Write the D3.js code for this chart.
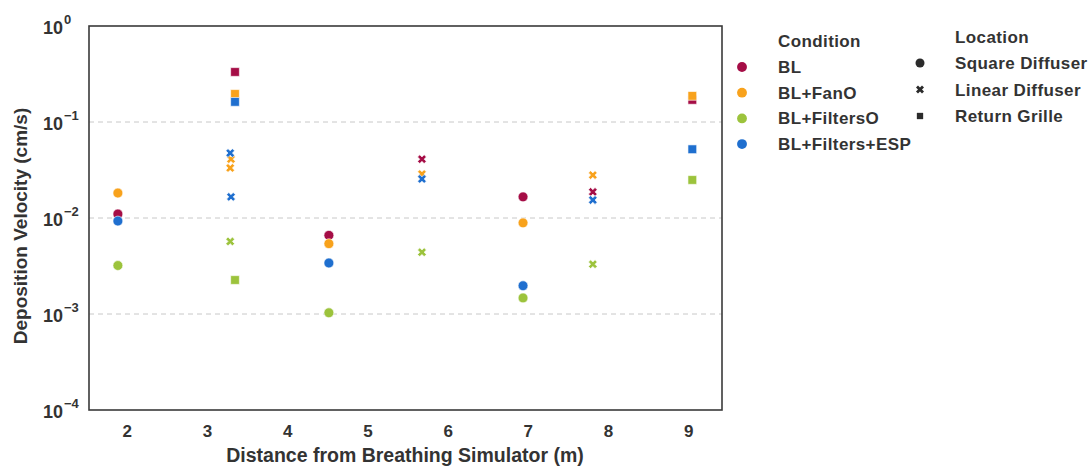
<!DOCTYPE html>
<html>
<head>
<meta charset="utf-8">
<script src="https://cdn.jsdelivr.net/npm/d3@7/dist/d3.min.js"></script>
<style>
  html, body { margin: 0; padding: 0; background: #fff; }
  svg { display: block; }
  text { font-family: "Liberation Sans", Arial, sans-serif; font-weight: bold; fill: #333; }
</style>
</head>
<body>
<svg id="chart" width="1092" height="466"></svg>
<script>
// ---------- data ----------
const conditions = ["BL", "BL+FanO", "BL+FiltersO", "BL+Filters+ESP"];
const locations = ["Square Diffuser", "Linear Diffuser", "Return Grille"];
const conditionColors = ["#a50d46", "#f8a21c", "#9cc33c", "#1f6fcf"];
const xTicks = [2, 3, 4, 5, 6, 7, 8, 9];
const yTickExponents = [0, -1, -2, -3, -4];

// one entry per point: distance (m), deposition velocity (cm/s), condition index, location index
const distance = [
  1.89, 4.52, 6.94,   1.89, 4.52, 6.94,   1.89, 4.52, 6.94,   1.89, 4.52, 6.94,
  5.68, 7.81,         3.30, 3.29, 5.68, 7.81,   3.29, 5.68, 7.81,   3.29, 3.30, 5.68, 7.81,
  3.35, 9.05,         3.35, 9.05,         3.35, 9.05,         3.35, 9.05
];
const velocity = [
  0.0110, 0.0066, 0.0166,   0.0182, 0.0054, 0.0089,   0.0032, 0.00103, 0.00147,   0.0093, 0.0034, 0.00197,
  0.041, 0.0187,            0.041, 0.0332, 0.0287, 0.028,   0.0057, 0.0044, 0.0033,   0.0475, 0.0166, 0.0255, 0.0154,
  0.332, 0.170,             0.196, 0.187,             0.00226, 0.0249,          0.162, 0.052
];
const conditionIndex = [
  0, 0, 0,  1, 1, 1,  2, 2, 2,  3, 3, 3,
  0, 0,     1, 1, 1, 1,  2, 2, 2,  3, 3, 3, 3,
  0, 0,     1, 1,     2, 2,     3, 3
];
const locationIndex = [
  0, 0, 0,  0, 0, 0,  0, 0, 0,  0, 0, 0,
  1, 1,     1, 1, 1, 1,  1, 1, 1,  1, 1, 1, 1,
  2, 2,     2, 2,     2, 2,     2, 2
];

// ---------- layout ----------
const svg = d3.select("#chart");
const plot = { left: 89, right: 722, top: 26, bottom: 410 };

const x = d3.scaleLinear().domain([1.53, 9.42]).range([plot.left, plot.right]);
const y = d3.scaleLog().domain([1e-4, 1]).range([plot.bottom, plot.top]);

// grid lines
svg.append("g").selectAll("line")
  .data(yTickExponents.filter(e => e < 0 && e > -4))
  .join("line")
  .attr("x1", plot.left).attr("x2", plot.right)
  .attr("y1", d => y(Math.pow(10, d))).attr("y2", d => y(Math.pow(10, d)))
  .attr("stroke", "#c8c8c8").attr("stroke-width", 1)
  .attr("stroke-dasharray", "5,4");

// x axis (labels only)
const xAxis = d3.axisBottom(x).tickValues(xTicks).tickSize(0).tickPadding(15).tickFormat(d3.format("d"));
const gx = svg.append("g").attr("transform", `translate(0,${plot.bottom})`).call(xAxis);
gx.select(".domain").remove();
gx.selectAll("text").attr("font-size", 17).attr("fill", "#333")
  .style("font-family", "Liberation Sans, Arial, sans-serif").style("font-weight", "bold");

// y axis labels: 10^e
const gy = svg.append("g");
yTickExponents.forEach(e => {
  const t = gy.append("text")
    .attr("x", 43)
    .attr("y", y(Math.pow(10, e)) + 8)
    .attr("font-size", 18);
  t.append("tspan").text("10");
  t.append("tspan").attr("dx", 1).attr("dy", -10).attr("font-size", 13)
    .text(e === 0 ? "0" : "\u2212" + Math.abs(e));
});

// frame
svg.append("rect")
  .attr("x", plot.left).attr("y", plot.top)
  .attr("width", plot.right - plot.left).attr("height", plot.bottom - plot.top)
  .attr("fill", "none").attr("stroke", "#3a3a3a").attr("stroke-width", 1.6);

// markers
const symbolTypes = [d3.symbolCircle, d3.symbolCross, d3.symbolSquare];
const symbolSizes = [76, 48, 76];
const symbolRot = [0, 45, 0];

const points = distance.map((d, i) => ({
  x: d, v: velocity[i], c: conditionIndex[i], l: locationIndex[i]
}));
// draw in condition order (later conditions on top)
const ordered = points.slice().sort((a, b) => a.c - b.c);

svg.append("g").selectAll("path")
  .data(ordered)
  .join("path")
  .attr("d", d => d3.symbol().type(symbolTypes[d.l]).size(symbolSizes[d.l])())
  .attr("transform", d => `translate(${x(d.x)},${y(d.v)}) rotate(${symbolRot[d.l]})`)
  .attr("fill", d => conditionColors[d.c])
  .attr("stroke", "#fff").attr("stroke-width", 0.6);

// axis titles
svg.append("text")
  .attr("x", 405)
  .attr("y", 462)
  .attr("text-anchor", "middle")
  .attr("font-size", 19.5)
  .text("Distance from Breathing Simulator (m)");

svg.append("text")
  .attr("transform", `translate(27,226) rotate(-90)`)
  .attr("text-anchor", "middle")
  .attr("font-size", 19)
  .text("Deposition Velocity (cm/s)");

// legend
const leg = svg.append("g").attr("font-size", 17).attr("letter-spacing", 0.4);
leg.append("text").attr("x", 778).attr("y", 47).text("Condition");
conditions.forEach((c, i) => {
  const yy = 67 + i * 25.7;
  leg.append("path")
    .attr("d", d3.symbol().type(d3.symbolCircle).size(76)())
    .attr("transform", `translate(742,${yy})`)
    .attr("fill", conditionColors[i]);
  leg.append("text").attr("x", 778).attr("y", yy + 6).text(c);
});

leg.append("text").attr("x", 955).attr("y", 43).text("Location");
locations.forEach((l, i) => {
  const yy = 63 + i * 26.5;
  leg.append("path")
    .attr("d", d3.symbol().type(symbolTypes[i]).size(i === 2 ? 40 : (i === 1 ? 40 : 64))())
    .attr("transform", `translate(920,${yy}) rotate(${symbolRot[i]})`)
    .attr("fill", "#2b2b2b");
  leg.append("text").attr("x", 955).attr("y", yy + 6).text(l);
});
</script>
</body>
</html>
